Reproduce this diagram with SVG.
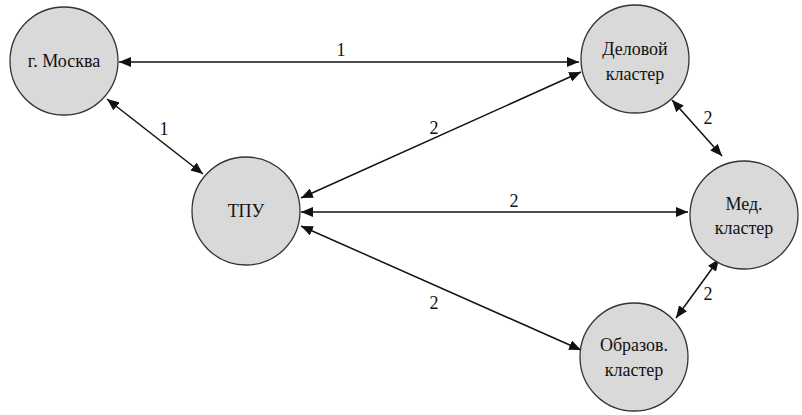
<svg xmlns="http://www.w3.org/2000/svg" width="802" height="415" viewBox="0 0 802 415">
<style>
.n{fill:#d9d9d9;stroke:#333;stroke-width:1.3}
text{font-size:18px;fill:#111;text-anchor:middle}
.c{stroke:#111;stroke-width:1.5;fill:none;marker-start:url(#a);marker-end:url(#a)}
</style>
<defs>
<marker id="a" viewBox="0 0 12 10" refX="12" refY="5" markerWidth="12" markerHeight="10" markerUnits="userSpaceOnUse" orient="auto-start-reverse">
<path d="M0,0 L12,5 L0,10 Z" fill="#111"/>
</marker>
</defs>
<rect width="802" height="415" fill="#fff"/>
<g id="connectors">
<line class="c" x1="119" y1="62" x2="579" y2="62"/>
<line class="c" x1="107" y1="99" x2="203" y2="174"/>
<line class="c" x1="301" y1="198" x2="581" y2="72"/>
<line class="c" x1="301" y1="212" x2="688" y2="212"/>
<line class="c" x1="301" y1="226" x2="581" y2="350"/>
<line class="c" x1="672" y1="100" x2="722" y2="156"/>
<line class="c" x1="719" y1="259" x2="676" y2="318"/>
</g>
<g font-family="Liberation Serif, Noto Serif, DejaVu Serif, serif">
<g id="labels">
<text x="341" y="56">1</text>
<text x="164" y="135">1</text>
<text x="434" y="134">2</text>
<text x="514" y="207">2</text>
<text x="434" y="309">2</text>
<text x="708" y="124">2</text>
<text x="708" y="300">2</text>
</g>
<g id="moskva"><circle class="n" cx="64" cy="61" r="54"/><text x="64" y="67">г. Москва</text></g>
<g id="delovoy"><circle class="n" cx="635" cy="59" r="54"/><text x="635" y="55">Деловой</text><text x="635" y="80">кластер</text></g>
<g id="tpu"><circle class="n" cx="246" cy="211" r="54"/><text x="246" y="217">ТПУ</text></g>
<g id="med"><circle class="n" cx="744" cy="215" r="54"/><text x="744" y="210">Мед.</text><text x="744" y="234">кластер</text></g>
<g id="obraz"><circle class="n" cx="634" cy="357" r="54"/><text x="634" y="351">Образов.</text><text x="634" y="376">кластер</text></g>
</g>
</svg>
